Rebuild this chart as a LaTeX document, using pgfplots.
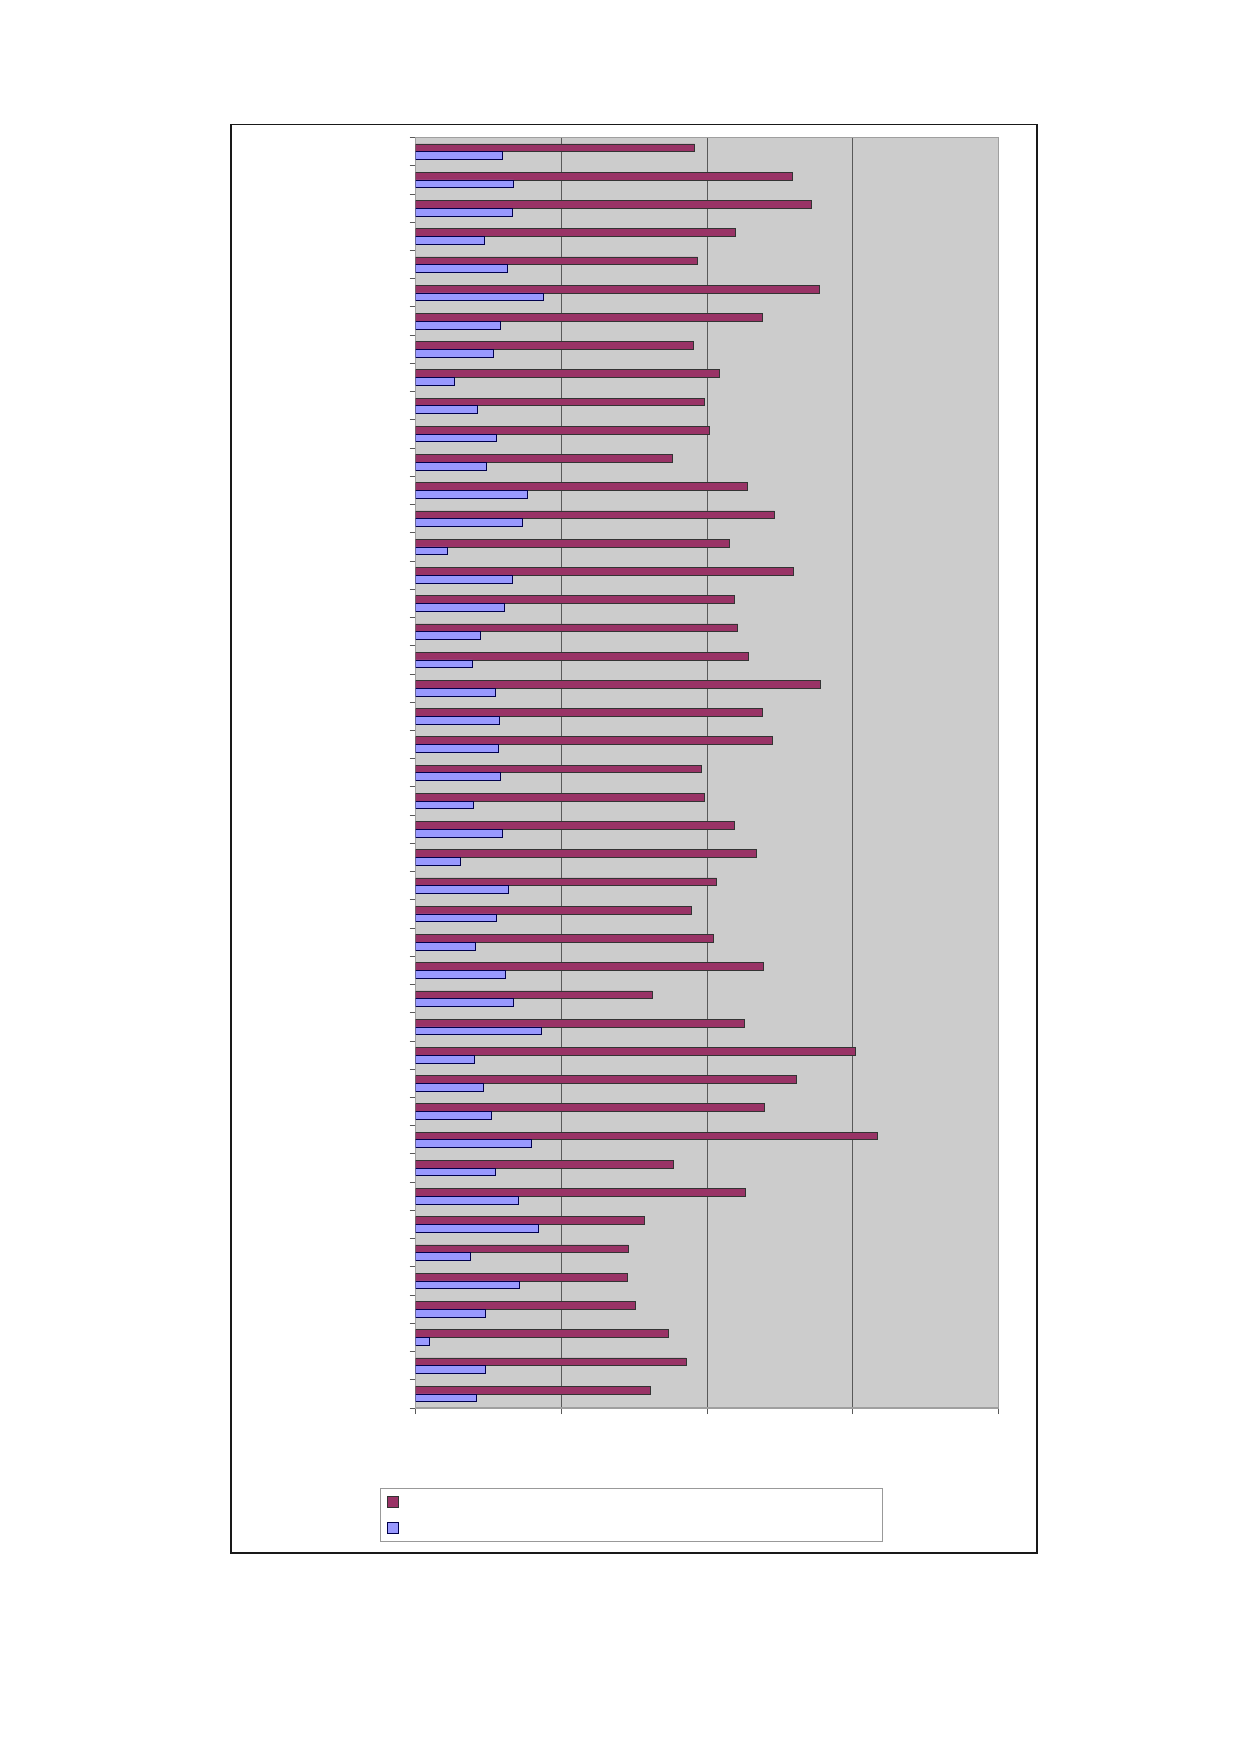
\documentclass[border=0pt]{standalone}
\usepackage{pgfplots}
\usepackage{pgfplotstable}
\pgfplotsset{compat=1.18}
\definecolor{plum}{HTML}{993366}
\definecolor{lav}{HTML}{9999FF}
\definecolor{plotbg}{HTML}{CCCCCC}
\pgfplotstableread{
idx red blue
1 1.913 0.592
2 2.582 0.671
3 2.717 0.664
4 2.196 0.472
5 1.934 0.630
6 2.769 0.879
7 2.377 0.580
8 1.902 0.536
9 2.082 0.266
10 1.979 0.426
11 2.018 0.556
12 1.758 0.482
13 2.274 0.765
14 2.461 0.731
15 2.155 0.218
16 2.594 0.663
17 2.183 0.610
18 2.210 0.444
19 2.285 0.391
20 2.774 0.549
21 2.377 0.571
22 2.450 0.567
23 1.957 0.578
24 1.979 0.398
25 2.189 0.596
26 2.340 0.307
27 2.064 0.635
28 1.890 0.553
29 2.043 0.409
30 2.384 0.615
31 1.621 0.667
32 2.258 0.864
33 3.017 0.402
34 2.614 0.464
35 2.390 0.519
36 3.164 0.793
37 1.767 0.546
38 2.263 0.704
39 1.571 0.841
40 1.457 0.377
41 1.450 0.711
42 1.505 0.475
43 1.731 0.094
44 1.854 0.475
45 1.607 0.418
}\datatable
\begin{document}
\begin{tikzpicture}
\path[use as bounding box, fill=white] (0,0) rectangle (619.5pt,876pt);
\draw[black!90, line width=0.8pt] (115.4pt,99.5pt) rectangle (518.6pt,813.8pt);
\begin{axis}[
  at={(207.85pt,172pt)}, anchor=south west,
  scale only axis, width=291.5pt, height=635.2pt,
  xbar, bar width=3.9pt,
  xmin=0, xmax=4, ymin=0.5, ymax=45.5,
  y dir=reverse,
  axis background/.style={fill=plotbg},
  axis line style={draw=gray!75, line width=0.6pt},
  xtick={0,1,2,3,4}, xticklabels={},
  ytick={0.5,1.5,...,45.5}, yticklabels={},
  xtick pos=lower, ytick pos=left,
  tick align=outside,
  major tick length=3pt,
  tick style={draw=gray!70!black, line width=0.5pt},
  xmajorgrids, major grid style={draw=black!65, line width=0.5pt},
  legend style={at={(-0.0608,-0.0627)}, anchor=north west,
    draw=gray!80, line width=0.6pt, inner xsep=3pt, inner ysep=0.6pt,
    nodes={inner sep=0pt, minimum height=12.7pt}, row sep=0pt, column sep=0pt,
    legend cell align=left},
  legend image code/.code={\draw[#1, line width=0.4pt] (0pt,-2.75pt) rectangle (5.5pt,2.75pt);},
]
\addplot[fill=plum, draw=black!80, line width=0.35pt, bar shift=1.95pt] table[x=red, y=idx] {\datatable};
\addlegendentry{\hspace*{239pt}}
\addplot[fill=lav, draw=blue!30!black, line width=0.35pt, bar shift=-1.95pt] table[x=blue, y=idx] {\datatable};
\addlegendentry{\hspace*{239pt}}
\end{axis}
\end{tikzpicture}
\end{document}
